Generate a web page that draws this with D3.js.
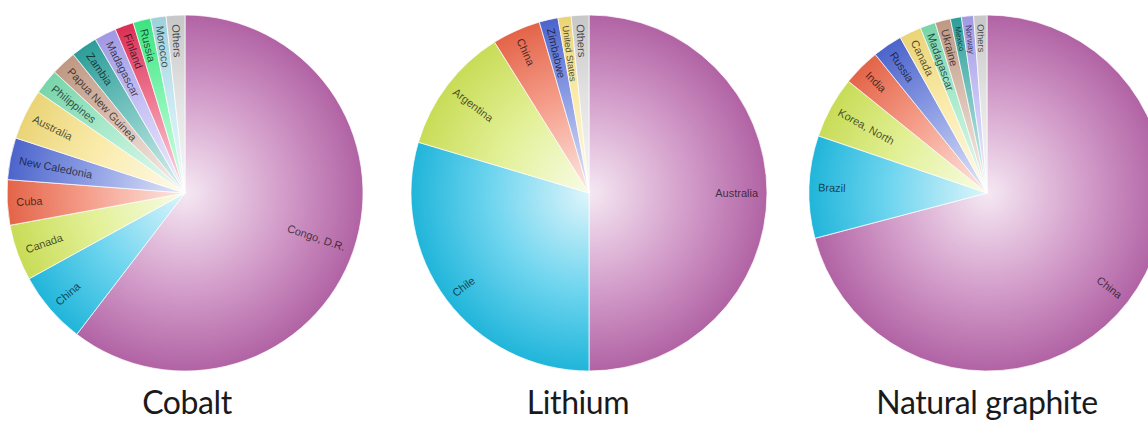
<!DOCTYPE html>
<html>
<head>
<meta charset="utf-8">
<script src="https://cdn.jsdelivr.net/npm/d3@7"></script>
<style>
  html, body { margin: 0; padding: 0; background: #fff; }
  svg { display: block; }
</style>
</head>
<body>
<svg id="chart" width="1148" height="423"></svg>
<script>
// Share of world mine production by country (%)
const cobaltCountries = ["Congo, D.R.", "China", "Canada", "Cuba", "New Caledonia", "Australia",
  "Philippines", "Papua New Guinea", "Zambia", "Madagascar", "Finland", "Russia", "Morocco", "Others"];
const cobaltShares = [60.4, 6.6, 5.1, 4.1, 3.8, 4.6, 2.3, 2.3, 2.4, 2.0, 1.7, 1.6, 1.4, 1.7];

const lithiumCountries = ["Australia", "Chile", "Argentina", "China", "Zimbabwe", "United States", "Others"];
const lithiumShares = [50.0, 29.6, 11.5, 4.4, 1.7, 1.2, 1.6];

const graphiteCountries = ["China", "Brazil", "Korea, North", "India", "Russia", "Canada",
  "Madagascar", "Ukraine", "Mexico", "Norway", "Others"];
const graphiteShares = [70.9, 9.3, 5.6, 3.4, 2.7, 2.0, 1.4, 1.4, 1.0, 1.1, 1.2];

const mineralTitles = ["Cobalt", "Lithium", "Natural graphite"];

// Slice colours by rank; the "Others" slice is always grey
const palette = ["#bb68ad", "#22bfe6", "#d3e85c", "#f06a4c", "#5069d6", "#f7e07e",
  "#7fe0b2", "#c8a08a", "#2fa6a0", "#a9a1ef", "#e6325a", "#40ef88", "#a8dbe8"];
const othersColor = "#d2d2d2";

const svg = d3.select("#chart");
const defs = svg.append("defs");

const R = 178;
const layout = [
  { cx: 185, cy: 193, titleX: 187 },
  { cx: 589, cy: 193, titleX: 578 },
  { cx: 987, cy: 193, titleX: 987 }
];
const datasets = [
  { names: cobaltCountries, values: cobaltShares },
  { names: lithiumCountries, values: lithiumShares },
  { names: graphiteCountries, values: graphiteShares }
];

const pie = d3.pie().sort(null).value(d => d.value).startAngle(0).endAngle(2 * Math.PI);
const arc = d3.arc().innerRadius(0).outerRadius(R);

function sliceColor(name, i) {
  return name === "Others" ? othersColor : palette[i % palette.length];
}

datasets.forEach((ds, k) => {
  const L = layout[k];
  const rows = ds.names.map((n, i) => ({ name: n, value: ds.values[i], color: sliceColor(n, i) }));

  // radial shading: pale at the centre, full colour at the rim
  rows.forEach((r, i) => {
    const id = `grad-${k}-${i}`;
    r.grad = id;
    const g = defs.append("radialGradient")
      .attr("id", id)
      .attr("gradientUnits", "userSpaceOnUse")
      .attr("cx", 0).attr("cy", 0).attr("r", R);
    const base = d3.color(r.color);
    g.append("stop").attr("offset", 0).attr("stop-color", d3.interpolateRgb(base, "#fff")(0.85));
    g.append("stop").attr("offset", 0.55).attr("stop-color", d3.interpolateRgb(base, "#fff")(0.35));
    g.append("stop").attr("offset", 1).attr("stop-color", base.darker(0.15));
  });

  const gPie = svg.append("g").attr("transform", `translate(${L.cx},${L.cy})`);
  const arcs = pie(rows);

  gPie.selectAll("path.slice")
    .data(arcs)
    .join("path")
    .attr("class", "slice")
    .attr("d", arc)
    .attr("fill", d => `url(#${d.data.grad})`)
    .attr("stroke", "#ffffff")
    .attr("stroke-opacity", 0.7)
    .attr("stroke-width", 1);

  // labels run radially, anchored just inside the rim
  const labelR = R - 9;
  gPie.selectAll("text.lbl")
    .data(arcs)
    .join("text")
    .attr("class", "lbl")
    .each(function (d) {
      const mid = (d.startAngle + d.endAngle) / 2;
      const deg = mid * 180 / Math.PI;
      const x = labelR * Math.sin(mid);
      const y = -labelR * Math.cos(mid);
      const rightSide = deg < 180;
      const rot = rightSide ? deg - 90 : deg - 270;
      const width = (d.endAngle - d.startAngle) * R;
      const fs = Math.min(11, width * 0.7);
      d3.select(this)
        .attr("transform", `translate(${x},${y}) rotate(${rot})`)
        .attr("text-anchor", rightSide ? "end" : "start")
        .attr("dominant-baseline", "central")
        .attr("font-size", fs)
        .text(d.data.name);
    })
    .attr("font-family", "'Liberation Sans', Arial, sans-serif")
    .attr("fill", "#000")
    .attr("fill-opacity", 0.68);

  svg.append("text")
    .attr("x", L.titleX)
    .attr("y", 414)
    .attr("text-anchor", "middle")
    .attr("font-family", "Lato, 'Open Sans', sans-serif")
    .attr("font-size", 32)
    .attr("letter-spacing", -0.4)
    .attr("fill", "#1a1a1a")
    .text(mineralTitles[k]);
});
</script>
</body>
</html>
